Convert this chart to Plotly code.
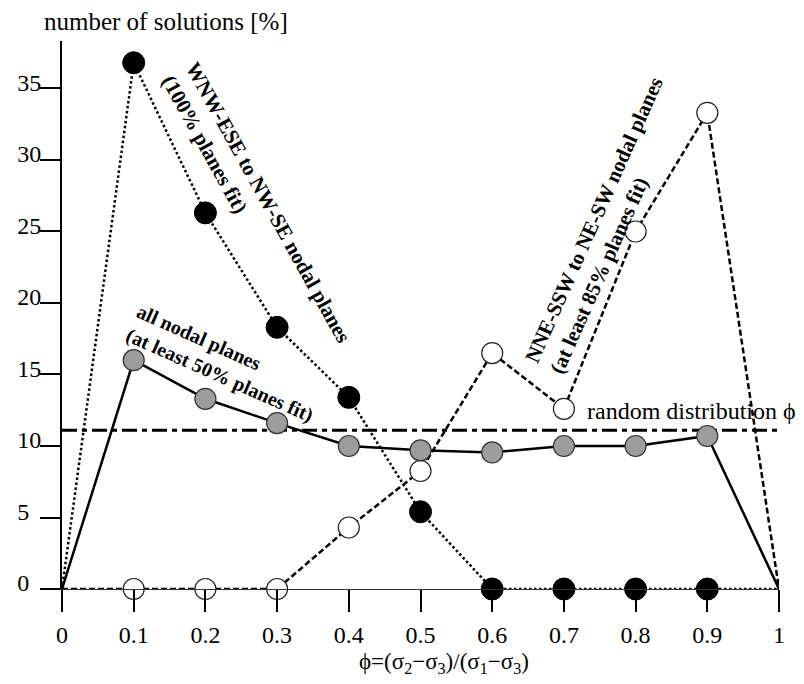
import plotly.graph_objects as go

# ---- data ----
phi = [0, 0.1, 0.2, 0.3, 0.4, 0.5, 0.6, 0.7, 0.8, 0.9, 1]
wnw_nw = [0, 36.8, 26.3, 18.3, 13.4, 5.4, 0, 0, 0, 0, 0]          # black, dotted
all_planes = [0, 16.0, 13.3, 11.6, 10.0, 9.7, 9.55, 10.0, 10.0, 10.7, 0]  # grey, solid
nne_ne = [0, 0, 0, 0, 4.3, 8.25, 16.5, 12.6, 25.0, 33.3, 0]        # white, dashed
random_level = [11.1, 11.1]
random_x = [0, 1]

x_tickvals = [0, 0.1, 0.2, 0.3, 0.4, 0.5, 0.6, 0.7, 0.8, 0.9, 1]
x_ticktext = ["0", "0.1", "0.2", "0.3", "0.4", "0.5", "0.6", "0.7", "0.8", "0.9", "1"]
y_tickvals = [0, 5, 10, 15, 20, 25, 30, 35]
y_ticktext = ["0\u00a0\u00a0", "5\u00a0\u00a0", "10", "15", "20", "25", "30", "35"]

FONT = "Liberation Serif, Times New Roman, serif"

fig = go.Figure()

# random distribution line
fig.add_trace(go.Scatter(x=random_x, y=random_level, mode="lines",
                         line=dict(color="black", width=3, dash="15px,5px,5px,5px"),
                         hoverinfo="skip", showlegend=False))

# NNE-SSW (white, dashed)
fig.add_trace(go.Scatter(x=phi, y=nne_ne, mode="lines",
                         line=dict(color="black", width=2.5, dash="6px,3px"),
                         showlegend=False, cliponaxis=False))
fig.add_trace(go.Scatter(x=phi[1:-1], y=nne_ne[1:-1], mode="markers",
                         marker=dict(size=21, color="white", line=dict(color="#222", width=1.2)),
                         showlegend=False, cliponaxis=False))

# WNW-ESE (black, dotted)
fig.add_trace(go.Scatter(x=phi, y=wnw_nw, mode="lines",
                         line=dict(color="black", width=2.5, dash="2.5px,2.5px"),
                         showlegend=False, cliponaxis=False))
fig.add_trace(go.Scatter(x=phi[1:-1], y=wnw_nw[1:-1], mode="markers",
                         marker=dict(size=22, color="black", line=dict(color="black", width=1)),
                         showlegend=False, cliponaxis=False))

# all nodal planes (grey, solid)
fig.add_trace(go.Scatter(x=phi, y=all_planes, mode="lines",
                         line=dict(color="black", width=2.5),
                         showlegend=False, cliponaxis=False))
fig.add_trace(go.Scatter(x=phi[1:-1], y=all_planes[1:-1], mode="markers",
                         marker=dict(size=21, color="#9c9c9c", line=dict(color="#333", width=1.2)),
                         showlegend=False, cliponaxis=False))

annots = [
    dict(text="<b>WNW-ESE to NW-SE nodal planes<br>(100% planes fit)</b>",
         x=0.2706, y=26.6, textangle=61, size=21),
    dict(text="<b>all nodal planes<br>(at least 50% planes fit)</b>",
         x=0.2273, y=15.8, textangle=24, size=20),
    dict(text="<b>NNE-SSW to NE-SW nodal planes<br>(at least 85% planes fit)</b>",
         x=0.7587, y=25.45, textangle=-66, size=21),
]
for a in annots:
    fig.add_annotation(x=a["x"], y=a["y"], xref="x", yref="y", text=a["text"],
                       textangle=a["textangle"], align="left", showarrow=False,
                       xanchor="center", yanchor="middle",
                       font=dict(family=FONT, size=a["size"], color="black"))

fig.add_annotation(x=0.7294, y=12.45, xref="x", yref="y", text="random distribution \u03d5",
                   showarrow=False, xanchor="left", yanchor="middle",
                   font=dict(family=FONT, size=24, color="black"))

fig.add_annotation(x=0.145, y=1.0347, xref="paper", yref="paper",
                   text="number of solutions [%]", showarrow=False,
                   xanchor="center", yanchor="middle",
                   font=dict(family=FONT, size=25, color="black"))

fig.add_annotation(x=0.533, y=-0.135, xref="paper", yref="paper",
                   text="\u03d5=(\u03c3<sub>2</sub>\u2212\u03c3<sub>3</sub>)/(\u03c3<sub>1</sub>\u2212\u03c3<sub>3</sub>)",
                   showarrow=False, xanchor="center", yanchor="middle",
                   font=dict(family=FONT, size=23, color="black"))

fig.update_layout(
    width=796, height=676,
    margin=dict(l=54, r=25, t=33, b=95),
    paper_bgcolor="white", plot_bgcolor="white",
    font=dict(family=FONT, size=24, color="black"),
    xaxis=dict(range=[0, 1], tickvals=x_tickvals, ticktext=x_ticktext,
               showgrid=False, zeroline=False, showline=True, linecolor="#333", linewidth=1,
               ticks="outside", ticklen=22, tickwidth=1.5, tickcolor="black",
               ticklabelstandoff=2, automargin=False,
               tickfont=dict(family=FONT, size=24, color="black")),
    yaxis=dict(range=[0, 38.32], tickvals=y_tickvals, ticktext=y_ticktext,
               showgrid=False, zeroline=False, showline=True, linecolor="black", linewidth=2,
               ticks="outside", ticklen=20, tickwidth=1.5, tickcolor="black",
               ticklabelstandoff=-6, ticklabelshift=-6, automargin=False,
               tickfont=dict(family=FONT, size=24, color="black")),
    showlegend=False,
)

fig.write_html("out.html")
